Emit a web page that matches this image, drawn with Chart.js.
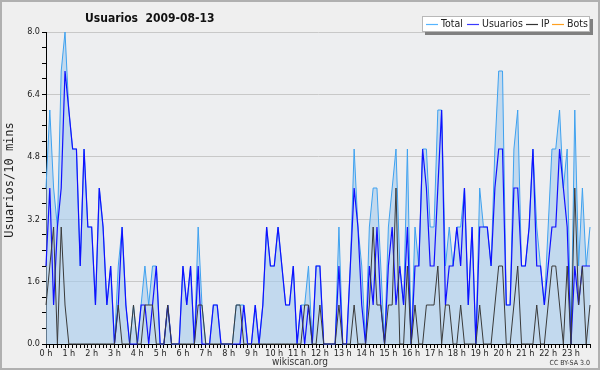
<!DOCTYPE html>
<html lang="es">
<head>
  <meta charset="UTF-8" />
  <title>Usuarios 2009-08-13</title>
  <script src="https://cdn.jsdelivr.net/npm/chart.js"></script>
  <style>
    body { margin: 0; padding: 0; background: #efefef; }
    #wrap { width: 600px; height: 370px; }
  </style>
</head>
<body>
  <div id="wrap">
    <canvas id="usersChart" width="600" height="370"></canvas>
  </div>

  <script>
    // ---------------------------------------------------------------
    // Data: one value per 10 minutes, 0:00 .. 23:50
    // ---------------------------------------------------------------
    const hourLabels = ['0 h', '1 h', '2 h', '3 h', '4 h', '5 h', '6 h', '7 h',
      '8 h', '9 h', '10 h', '11 h', '12 h', '13 h', '14 h', '15 h',
      '16 h', '17 h', '18 h', '19 h', '20 h', '21 h', '22 h', '23 h'];

    const totalValues = [
      4, 6, 4, 3, 7, 8, 6, 5, 5, 2, 5, 3,
      3, 1, 4, 3, 1, 2, 0, 2, 3, 1, 0, 1,
      0, 1, 2, 1, 2, 2, 0, 0, 1, 0, 0, 0,
      2, 1, 2, 0, 3, 1, 0, 0, 1, 1, 0, 0,
      0, 0, 1, 1, 1, 0, 0, 1, 0, 1, 3, 2,
      2, 3, 2, 1, 1, 2, 0, 1, 1, 2, 0, 2,
      2, 0, 0, 0, 0, 3, 0, 0, 2, 5, 3, 2,
      0, 3, 4, 4, 2, 0, 3, 4, 5, 2, 1, 5,
      0, 3, 2, 5, 5, 3, 3, 6, 6, 2, 3, 2,
      3, 3, 4, 1, 3, 0, 4, 3, 3, 2, 5, 7,
      7, 1, 1, 5, 6, 2, 2, 3, 5, 3, 2, 1,
      3, 5, 5, 6, 4, 5, 0, 6, 2, 4, 2, 3
    ];

    const userValues = [
      2, 4, 1, 3, 4, 7, 6, 5, 5, 2, 5, 3,
      3, 1, 4, 3, 1, 2, 0, 1, 3, 1, 0, 0,
      0, 1, 1, 0, 1, 2, 0, 0, 1, 0, 0, 0,
      2, 1, 2, 0, 2, 0, 0, 0, 1, 1, 0, 0,
      0, 0, 0, 0, 1, 0, 0, 1, 0, 1, 3, 2,
      2, 3, 2, 1, 1, 2, 0, 1, 0, 1, 0, 2,
      2, 0, 0, 0, 0, 2, 0, 0, 2, 4, 3, 1,
      0, 2, 1, 3, 1, 0, 2, 3, 1, 2, 1, 3,
      0, 2, 2, 5, 4, 2, 2, 4, 6, 1, 2, 2,
      3, 2, 4, 1, 3, 0, 3, 3, 3, 2, 4, 5,
      5, 1, 1, 4, 4, 2, 2, 3, 5, 2, 2, 1,
      2, 3, 3, 5, 4, 3, 0, 2, 1, 2, 2, 2
    ];

    const ipValues = [
      1, 2, 3, 0, 3, 1, 0, 0, 0, 0, 0, 0,
      0, 0, 0, 0, 0, 0, 0, 1, 0, 0, 0, 1,
      0, 0, 1, 1, 1, 0, 0, 0, 1, 0, 0, 0,
      0, 0, 0, 0, 1, 1, 0, 0, 0, 0, 0, 0,
      0, 0, 1, 1, 0, 0, 0, 0, 0, 0, 0, 0,
      0, 0, 0, 0, 0, 0, 0, 0, 1, 1, 0, 0,
      1, 0, 0, 0, 0, 1, 0, 0, 0, 1, 0, 0,
      0, 1, 3, 1, 1, 0, 1, 1, 4, 0, 0, 2,
      0, 1, 0, 0, 1, 1, 1, 2, 0, 1, 1, 0,
      0, 1, 0, 0, 0, 0, 1, 0, 0, 0, 1, 2,
      2, 0, 0, 1, 2, 0, 0, 0, 0, 1, 0, 0,
      1, 2, 2, 1, 0, 2, 0, 4, 1, 2, 0, 1
    ];

    const botValues = [
      0, 0, 0, 0, 0, 0, 0, 0, 0, 0, 0, 0,
      0, 0, 0, 0, 0, 0, 0, 0, 0, 0, 0, 0,
      0, 0, 0, 0, 0, 0, 0, 0, 0, 0, 0, 0,
      0, 0, 0, 0, 0, 0, 0, 0, 0, 0, 0, 0,
      0, 0, 0, 0, 0, 0, 0, 0, 0, 0, 0, 0,
      0, 0, 0, 0, 0, 0, 0, 0, 0, 0, 0, 0,
      0, 0, 0, 0, 0, 0, 0, 0, 0, 0, 0, 0,
      0, 0, 0, 0, 0, 0, 0, 0, 0, 0, 0, 0,
      0, 0, 0, 0, 0, 0, 0, 0, 0, 0, 0, 0,
      0, 0, 0, 0, 0, 0, 0, 0, 0, 0, 0, 0,
      0, 0, 0, 0, 0, 0, 0, 0, 0, 0, 0, 0,
      0, 0, 0, 0, 0, 0, 0, 0, 0, 0, 0, 0
    ];

    // one category per 10 minutes, only the full hour gets a label
    const slots = [];
    hourLabels.forEach(h => {
      for (let m = 0; m < 6; m++) slots.push(m === 0 ? h : '');
    });

    const SANS = '"DejaVu Sans Condensed", "DejaVu Sans", sans-serif';
    Chart.defaults.font.family = SANS;

    const isMajor = v => Math.abs(v / 1.6 - Math.round(v / 1.6)) < 1e-6;

    // ---------------------------------------------------------------
    // Background, title, legend box and footer texts
    // ---------------------------------------------------------------
    const framePlugin = {
      id: 'frame',
      beforeDraw(chart) {
        const { ctx, chartArea: a, width, height } = chart;
        ctx.save();
        ctx.fillStyle = '#efefef';
        ctx.fillRect(0, 0, width, height);
        ctx.fillStyle = '#edeef0';
        ctx.fillRect(a.left, a.top, a.right - a.left, a.bottom - a.top);
        ctx.strokeStyle = '#b0b0b0';
        ctx.lineWidth = 2;
        ctx.strokeRect(1, 1, width - 2, height - 2);
        ctx.restore();
      },
      afterDraw(chart) {
        const { ctx } = chart;
        ctx.save();

        // title
        ctx.fillStyle = '#111';
        ctx.font = 'bold 12px ' + SANS;
        ctx.textBaseline = 'alphabetic';
        ctx.textAlign = 'left';
        ctx.fillText('Usuarios  2009-08-13', 85, 21.5);

        // y axis title
        ctx.save();
        ctx.translate(9.5, 180);
        ctx.rotate(-Math.PI / 2);
        ctx.font = '12px "DejaVu Sans Mono", monospace';
        ctx.textAlign = 'center';
        ctx.textBaseline = 'middle';
        ctx.fillStyle = '#222';
        ctx.fillText('Usuarios/10 mins', 0, 0);
        ctx.restore();

        // legend box with shadow
        ctx.fillStyle = '#808080';
        ctx.fillRect(425, 19, 168, 16);
        ctx.fillStyle = '#ffffff';
        ctx.fillRect(422, 16, 168, 16);
        ctx.strokeStyle = '#b8b8b8';
        ctx.lineWidth = 1;
        ctx.strokeRect(422.5, 16.5, 167, 15);

        const itemX = [426, 467, 526, 552];
        ctx.font = '10.5px ' + SANS;
        ctx.textBaseline = 'middle';
        chart.data.datasets.forEach((ds, i) => {
          ctx.strokeStyle = ds.legendColor;
          ctx.lineWidth = 1.2;
          ctx.beginPath();
          ctx.moveTo(itemX[i], 24.5);
          ctx.lineTo(itemX[i] + 12, 24.5);
          ctx.stroke();
          ctx.fillStyle = '#222';
          ctx.fillText(ds.label, itemX[i] + 15, 24.5);
        });

        // footer
        ctx.textBaseline = 'alphabetic';
        ctx.fillStyle = '#333';
        ctx.font = '10px ' + SANS;
        ctx.textAlign = 'center';
        ctx.fillText('wikiscan.org', 300, 365);
        ctx.font = '7px ' + SANS;
        ctx.textAlign = 'right';
        ctx.fillText('CC BY-SA 3.0', 590, 365);

        ctx.restore();
      }
    };

    // ---------------------------------------------------------------
    // Chart
    // ---------------------------------------------------------------
    const context = document.getElementById('usersChart').getContext('2d');
    new Chart(context, {
      type: 'line',
      data: {
        labels: slots,
        datasets: [
          {
            label: 'Total', data: totalValues,
            borderColor: '#3fa2f0', legendColor: '#55b4ff',
            backgroundColor: 'rgba(165, 203, 236, 0.6)', fill: 'origin',
            borderWidth: 1, order: 4, clip: false
          },
          {
            label: 'Usuarios', data: userValues,
            borderColor: '#1010ff', legendColor: '#3a3aff',
            borderWidth: 1.2, fill: false, order: 3, clip: false
          },
          {
            label: 'IP', data: ipValues,
            borderColor: '#3a3a3a', legendColor: '#333333',
            borderWidth: 1, fill: false, order: 2, clip: false
          },
          {
            // all zero: the line sits under the x axis, as in the original
            label: 'Bots', data: botValues,
            borderColor: '#ffa500', legendColor: '#ffa020',
            borderWidth: 1, fill: false, order: 5,
            clip: { left: false, top: false, right: false, bottom: -1 }
          }
        ]
      },
      options: {
        responsive: false,
        animation: false,
        layout: { padding: { top: 32, right: 10, left: 0, bottom: 0 } },
        elements: {
          point: { radius: 0 },
          line: { tension: 0 }
        },
        plugins: {
          legend: { display: false },
          title: { display: false },
          tooltip: { enabled: false }
        },
        scales: {
          x: {
            type: 'category',
            offset: false,
            z: 1,
            ticks: {
              autoSkip: false, maxRotation: 0, minRotation: 0,
              padding: 0, color: '#222', font: { size: 9 }
            },
            grid: {
              drawOnChartArea: false, drawTicks: true,
              tickLength: 4, tickColor: '#000'
            },
            border: { display: true, color: '#000' },
            afterFit: s => { s.height = 26; }
          },
          y: {
            min: 0,
            max: 8,
            ticks: {
              stepSize: 0.4, autoSkip: false, padding: 2,
              color: '#222', font: { size: 9 },
              callback: v => isMajor(v) ? v.toFixed(1) : ''
            },
            grid: {
              color: c => (c.tick && isMajor(c.tick.value)) ? '#c8c8c8' : 'rgba(0,0,0,0)',
              tickColor: '#000',
              tickLength: 4
            },
            border: { display: true, color: '#000' },
            afterFit: s => { s.width = 46; }
          }
        }
      },
      plugins: [framePlugin]
    });
  </script>
</body>
</html>
